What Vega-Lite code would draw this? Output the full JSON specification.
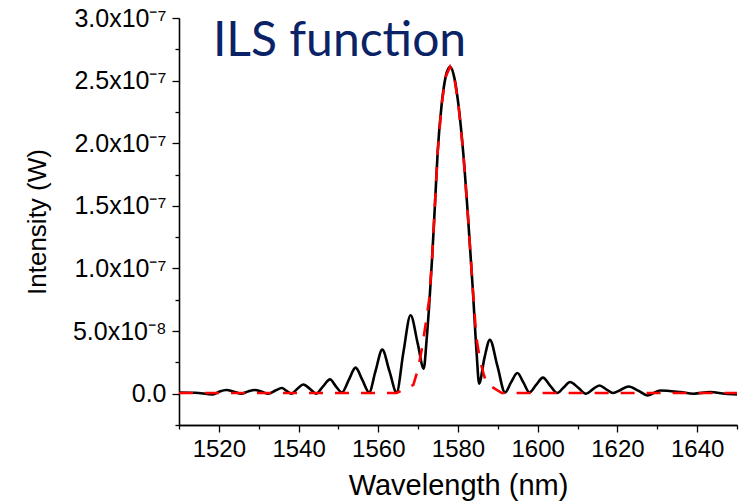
{
  "$schema": "https://vega.github.io/schema/vega-lite/v6.json",
  "width": 558,
  "height": 407,
  "autosize": "none",
  "padding": {"left": 179, "top": 18, "right": 17, "bottom": 78},
  "background": "white",
  "config": {
    "view": {"stroke": null},
    "axis": {
      "grid": false,
      "domainColor": "black",
      "domainWidth": 1.3,
      "tickColor": "black",
      "tickWidth": 1.3,
      "labelColor": "black",
      "titleColor": "black",
      "labelFont": "Liberation Sans",
      "titleFont": "Liberation Sans",
      "titleFontWeight": "normal"
    }
  },
  "datasets": {
    "ils": [
      {"wavelength": 1510, "intensity": 1.0e-9},
      {"wavelength": 1514, "intensity": 0.8e-9},
      {"wavelength": 1518.5, "intensity": -0.6e-9},
      {"wavelength": 1520.2, "intensity": 1.8e-9},
      {"wavelength": 1521.9, "intensity": 3.0e-9},
      {"wavelength": 1523.8, "intensity": 1.5e-9},
      {"wavelength": 1525.6, "intensity": 0},
      {"wavelength": 1527.3, "intensity": 1.8e-9},
      {"wavelength": 1529.0, "intensity": 3.0e-9},
      {"wavelength": 1530.8, "intensity": 1.5e-9},
      {"wavelength": 1532.4, "intensity": 0},
      {"wavelength": 1534.2, "intensity": 2.5e-9},
      {"wavelength": 1535.8, "intensity": 4.5e-9},
      {"wavelength": 1537.0, "intensity": 2.2e-9},
      {"wavelength": 1538.2, "intensity": 0},
      {"wavelength": 1539.7, "intensity": 4.0e-9},
      {"wavelength": 1541.2, "intensity": 7.4e-9},
      {"wavelength": 1542.9, "intensity": 3.7e-9},
      {"wavelength": 1544.4, "intensity": 0},
      {"wavelength": 1546.1, "intensity": 5.7e-9},
      {"wavelength": 1547.9, "intensity": 11.4e-9},
      {"wavelength": 1549.4, "intensity": 5.7e-9},
      {"wavelength": 1550.9, "intensity": 1.0e-9},
      {"wavelength": 1552.6, "intensity": 11.0e-9},
      {"wavelength": 1554.3, "intensity": 20.8e-9},
      {"wavelength": 1556.0, "intensity": 11.0e-9},
      {"wavelength": 1557.7, "intensity": 1.0e-9},
      {"wavelength": 1559.3, "intensity": 18.0e-9},
      {"wavelength": 1561.0, "intensity": 35.2e-9},
      {"wavelength": 1562.8, "intensity": 18.0e-9},
      {"wavelength": 1564.6, "intensity": 1.0e-9},
      {"wavelength": 1566.3, "intensity": 33.0e-9},
      {"wavelength": 1568.1, "intensity": 62.6e-9},
      {"wavelength": 1569.9, "intensity": 40.0e-9},
      {"wavelength": 1571.4, "intensity": 20.0e-9},
      {"wavelength": 1572.1, "intensity": 42.0e-9},
      {"wavelength": 1572.8, "intensity": 72.0e-9},
      {"wavelength": 1573.5, "intensity": 108.0e-9},
      {"wavelength": 1574.2, "intensity": 150.0e-9},
      {"wavelength": 1574.9, "intensity": 193.0e-9},
      {"wavelength": 1575.9, "intensity": 231.0e-9},
      {"wavelength": 1576.9, "intensity": 253.0e-9},
      {"wavelength": 1578.0, "intensity": 261.0e-9},
      {"wavelength": 1579.1, "intensity": 252.0e-9},
      {"wavelength": 1580.1, "intensity": 231.0e-9},
      {"wavelength": 1581.35, "intensity": 191.0e-9},
      {"wavelength": 1582.6, "intensity": 137.0e-9},
      {"wavelength": 1583.7, "intensity": 84.0e-9},
      {"wavelength": 1584.7, "intensity": 31.0e-9},
      {"wavelength": 1585.3, "intensity": 8.0e-9},
      {"wavelength": 1586.6, "intensity": 28.0e-9},
      {"wavelength": 1588.0, "intensity": 43.0e-9},
      {"wavelength": 1589.9, "intensity": 22.0e-9},
      {"wavelength": 1591.8, "intensity": 1.0e-9},
      {"wavelength": 1593.3, "intensity": 9.0e-9},
      {"wavelength": 1594.9, "intensity": 16.5e-9},
      {"wavelength": 1596.4, "intensity": 9.0e-9},
      {"wavelength": 1597.9, "intensity": 1.0e-9},
      {"wavelength": 1599.6, "intensity": 7.0e-9},
      {"wavelength": 1601.3, "intensity": 12.8e-9},
      {"wavelength": 1603.1, "intensity": 6.5e-9},
      {"wavelength": 1604.9, "intensity": 0.5e-9},
      {"wavelength": 1606.5, "intensity": 5.0e-9},
      {"wavelength": 1608.1, "intensity": 9.3e-9},
      {"wavelength": 1610.1, "intensity": 5.0e-9},
      {"wavelength": 1612.1, "intensity": 0},
      {"wavelength": 1613.8, "intensity": 3.5e-9},
      {"wavelength": 1615.5, "intensity": 6.6e-9},
      {"wavelength": 1617.2, "intensity": 3.5e-9},
      {"wavelength": 1618.9, "intensity": 0.5e-9},
      {"wavelength": 1620.8, "intensity": 3.0e-9},
      {"wavelength": 1622.8, "intensity": 5.8e-9},
      {"wavelength": 1625.2, "intensity": 2.5e-9},
      {"wavelength": 1627.6, "intensity": -1.4e-9},
      {"wavelength": 1630.7, "intensity": 2.6e-9},
      {"wavelength": 1635.8, "intensity": 1.3e-9},
      {"wavelength": 1639.1, "intensity": 0},
      {"wavelength": 1643.3, "intensity": 1.3e-9},
      {"wavelength": 1647, "intensity": 0},
      {"wavelength": 1650, "intensity": -0.6e-9}
    ],
    "fit": [
      {"wavelength": 1510, "intensity": 0.5e-9},
      {"wavelength": 1564.6, "intensity": 0.5e-9},
      {"wavelength": 1568.8, "intensity": 7.0e-9},
      {"wavelength": 1570.0, "intensity": 20.0e-9},
      {"wavelength": 1571.0, "intensity": 37.0e-9},
      {"wavelength": 1572.0, "intensity": 58.0e-9},
      {"wavelength": 1572.8, "intensity": 76.0e-9},
      {"wavelength": 1573.5, "intensity": 108.0e-9},
      {"wavelength": 1574.2, "intensity": 150.0e-9},
      {"wavelength": 1574.9, "intensity": 193.0e-9},
      {"wavelength": 1575.9, "intensity": 231.0e-9},
      {"wavelength": 1576.9, "intensity": 253.0e-9},
      {"wavelength": 1578.0, "intensity": 261.0e-9},
      {"wavelength": 1579.1, "intensity": 252.0e-9},
      {"wavelength": 1580.1, "intensity": 231.0e-9},
      {"wavelength": 1581.35, "intensity": 191.0e-9},
      {"wavelength": 1582.6, "intensity": 137.0e-9},
      {"wavelength": 1583.7, "intensity": 84.0e-9},
      {"wavelength": 1584.6, "intensity": 45.0e-9},
      {"wavelength": 1585.5, "intensity": 27.0e-9},
      {"wavelength": 1586.4, "intensity": 16.0e-9},
      {"wavelength": 1587.2, "intensity": 8.0e-9},
      {"wavelength": 1591.0, "intensity": 0.5e-9},
      {"wavelength": 1650, "intensity": 0.5e-9}
    ],
    "heading": [
      {"label": "ILS function", "wavelength": 1518.5, "intensity": 2.7e-7}
    ]
  },
  "resolve": {"axis": {"x": "independent", "y": "independent"}},
  "layer": [
    {
      "data": {"name": "ils"},
      "mark": {"type": "line", "color": "black", "strokeWidth": 2.6, "interpolate": "monotone", "clip": true},
      "encoding": {
        "x": {
          "field": "wavelength", "type": "quantitative",
          "scale": {"domain": [1510, 1650], "nice": false, "zero": false},
          "axis": {
            "orient": "bottom",
            "values": [1520, 1540, 1560, 1580, 1600, 1620, 1640],
            "format": "d",
            "tickSize": 7,
            "labelFontSize": 24,
            "labelPadding": 5,
            "title": "Wavelength (nm)",
            "titleFontSize": 29,
            "titlePadding": 10
          }
        },
        "y": {
          "field": "intensity", "type": "quantitative",
          "scale": {"domain": [-2.5e-8, 3.0e-7], "nice": false, "zero": false},
          "axis": {
            "orient": "left",
            "values": [0, 5e-8, 1e-7, 1.5e-7, 2e-7, 2.5e-7, 3e-7],
            "labelExpr": "datum.value == 0 ? '0.0' : (datum.value < 9e-8 ? format(datum.value * 1e8, '.1f') + 'x10⁻⁸' : format(datum.value * 1e7, '.1f') + 'x10⁻⁷')",
            "tickSize": 7,
            "labelFontSize": 25,
            "labelPadding": 6,
            "title": "Intensity (W)",
            "titleFontSize": 26,
            "titlePadding": 22
          }
        }
      }
    },
    {
      "data": {"name": "fit"},
      "mark": {"type": "line", "color": "#ff0000", "strokeWidth": 2.6, "strokeDash": [14, 12], "clip": true},
      "encoding": {
        "x": {
          "field": "wavelength", "type": "quantitative",
          "scale": {"domain": [1510, 1650], "nice": false, "zero": false},
          "axis": {
            "orient": "bottom",
            "values": [1510, 1530, 1550, 1570, 1590, 1610, 1630, 1650],
            "tickSize": 4,
            "labels": false,
            "title": null
          }
        },
        "y": {
          "field": "intensity", "type": "quantitative",
          "scale": {"domain": [-2.5e-8, 3.0e-7], "nice": false, "zero": false},
          "axis": {
            "orient": "left",
            "values": [-2.5e-8, 2.5e-8, 7.5e-8, 1.25e-7, 1.75e-7, 2.25e-7, 2.75e-7],
            "tickSize": 4,
            "labels": false,
            "title": null
          }
        }
      }
    },
    {
      "data": {"name": "heading"},
      "mark": {"type": "text", "font": "Lato", "fontSize": 48, "color": "#0a2366", "align": "left", "baseline": "alphabetic"},
      "encoding": {
        "text": {"field": "label"},
        "x": {"field": "wavelength", "type": "quantitative", "axis": null, "scale": {"domain": [1510, 1650], "nice": false, "zero": false}},
        "y": {"field": "intensity", "type": "quantitative", "axis": null, "scale": {"domain": [-2.5e-8, 3.0e-7], "nice": false, "zero": false}}
      }
    }
  ]
}
